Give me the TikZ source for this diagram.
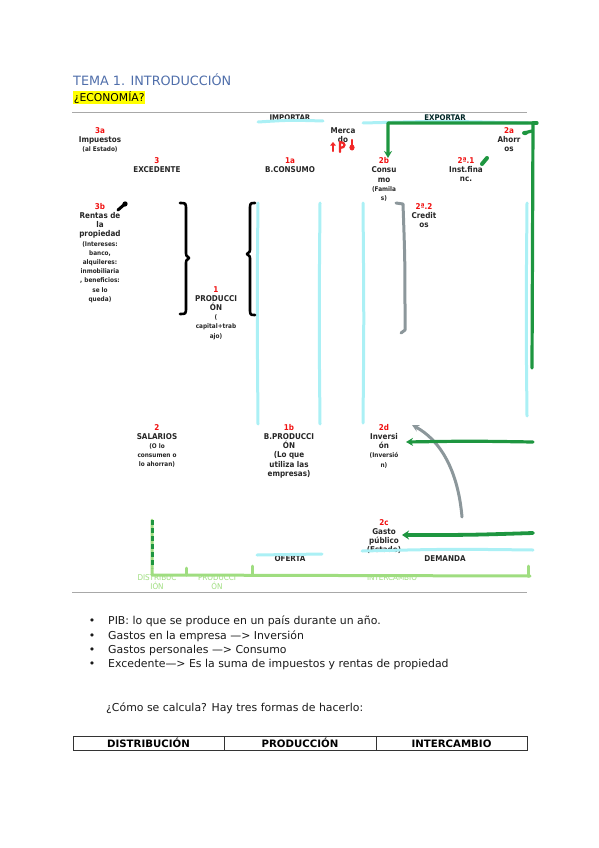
\documentclass[tikz,border=0pt]{standalone}
\usepackage{fontspec}
\setmainfont{DejaVu Sans}
\newfontfamily\condf{DejaVu Sans Condensed}
\usetikzlibrary{arrows.meta}
\definecolor{titleblue}{HTML}{4F6EAA}
\definecolor{cyanl}{HTML}{ABF0F5}
\definecolor{greend}{HTML}{1E9640}
\definecolor{greenl}{HTML}{9FDD80}
\definecolor{grayarr}{HTML}{8C979B}
\definecolor{rulegray}{HTML}{A8A8A8}
\definecolor{numred}{HTML}{F01010}
\definecolor{hiyellow}{HTML}{FFFF00}
\newcommand{\rnum}[1]{\textcolor{numred}{#1}}
\newcommand{\smf}{\fontsize{6.4}{9.2}\selectfont}
\begin{document}
\begin{tikzpicture}[x=1pt,y=-1pt,
  lbl/.style={font=\condf\bfseries\fontsize{8}{9.2}\selectfont, align=center, inner sep=0pt, anchor=north, text=black!85},
  glbl/.style={font=\condf\fontsize{8}{9.5}\selectfont, align=center, inner sep=0pt, text=greenl},
  cyanstroke/.style={draw=cyanl, line width=3pt, line cap=round},
  gstroke/.style={draw=greend, line width=3.2pt, line cap=round, line join=round},
  lgstroke/.style={draw=greenl, line width=3pt, line cap=round, line join=round},
  graystroke/.style={draw=grayarr, line width=3pt, line cap=round, line join=round},
  blackstroke/.style={draw=black, line width=2.6pt, line cap=round, line join=round},
  redstroke/.style={draw=numred!90, line width=2.2pt, line cap=round},
  bodytext/.style={font=\fontsize{10.9}{12}\selectfont, inner sep=0pt, anchor=base west, text=black!90},
  thead/.style={font=\bfseries\fontsize{10.2}{11}\selectfont, inner sep=0pt, anchor=base}
]
\useasboundingbox (0,0) rectangle (599,848);

% ---------- header ----------
\node[inner sep=0pt, anchor=base west, text=titleblue, font=\fontsize{12.8}{14}\selectfont] (title) at (73,86) {TEMA 1. INTRODUCCIÓN};
\node[inner sep=0.6pt, anchor=base west, fill=hiyellow, font=\fontsize{10.8}{12}\selectfont] (eco) at (73,101.5) {¿ECONOMÍA?};
\coordinate (rtl) at (72,113); \coordinate (rtr) at (527,113);
\draw[rulegray, line width=1pt] (rtl) -- (rtr);
\coordinate (rbl) at (72,592); \coordinate (rbr) at (527,592);
\draw[rulegray, line width=1pt] (rbl) -- (rbr);

% ---------- top row texts ----------
\node[lbl, anchor=center, font=\condf\bfseries\fontsize{7.8}{9}\selectfont] (imp) at (290,118) {IMPORTAR};
\node[lbl, anchor=center, font=\condf\bfseries\fontsize{7.8}{9}\selectfont, text=black!70!teal] (exp) at (445,118) {EXPORTAR};
\draw[cyanstroke] (258,122) .. controls (290,120) .. (323,121);
\draw[cyanstroke] (363,123) .. controls (440,121) .. (528,123);

\node[lbl] (n3a) at (100,127) {\rnum{3a}\\Impuestos\\{\smf (al Estado)}};
\node[lbl] (merc) at (343,127) {Merca\\do};
\node[lbl] (n2a) at (509,127) {\rnum{2a}\\Ahorr\\os};
\node[lbl] (n3) at (157,157.5) {\rnum{3}\\EXCEDENTE};
\node[lbl] (n1a) at (290,157.5) {\rnum{1a}\\B.CONSUMO};
\node[lbl] (n2b) at (384,157.5) {\rnum{2b}\\Consu\\mo\\{\smf (Famila}\\{\smf s)}};
\node[lbl] (n2a1) at (466,157) {\rnum{2ª.1}\\Inst.fina\\nc.};

\node[lbl] (n3b) at (100,203) {\rnum{3b}\\Rentas de\\la\\propiedad\\{\smf (Intereses:}\\{\smf banco,}\\{\smf alquileres:}\\{\smf inmobiliaria}\\{\smf , beneficios:}\\{\smf se lo}\\{\smf queda)}};
\node[lbl] (n2a2) at (424,203) {\rnum{2ª.2}\\Credit\\os};
\node[lbl] (n1) at (216,286) {\rnum{1}\\PRODUCCI\\ÓN\\{\smf (}\\{\smf capital+trab}\\{\smf ajo)}};

\node[lbl] (n2) at (157,424) {\rnum{2}\\SALARIOS\\{\smf (O lo}\\{\smf consumen o}\\{\smf lo ahorran)}};
\node[lbl] (n1b) at (289,424) {\rnum{1b}\\B.PRODUCCI\\ÓN\\(Lo que\\utiliza las\\empresas)};
\node[lbl] (n2d) at (384,424) {\rnum{2d}\\Inversi\\ón\\{\smf (Inversió}\\{\smf n)}};
\node[lbl] (n2c) at (384,519) {\rnum{2c}\\Gasto\\público\\(Estado)};

\node[lbl, anchor=center] (ofe) at (290,559) {OFERTA};
\node[lbl, anchor=center] (dem) at (445,559) {DEMANDA};

% ---------- cyan vertical lines ----------
\draw[cyanstroke] (258,203) .. controls (257,300) .. (258,424);
\draw[cyanstroke] (320,203) .. controls (319,320) .. (320,424);
\draw[cyanstroke] (363,203) .. controls (364,320) .. (363,423);
\draw[cyanstroke] (527,203) .. controls (526,320) .. (527,416);
\draw[cyanstroke] (257,555) -- (322,554);
\draw[cyanstroke] (362,551) .. controls (450,549) .. (533,550);

% ---------- braces ----------
\draw[blackstroke] (180,203) .. controls (186,203) .. (186,210) -- (186,250) .. controls (186,256) .. (189,258) .. controls (186,260) .. (186,266) -- (186,307) .. controls (186,314) .. (180,314);
\draw[blackstroke] (255,203) .. controls (250,203) .. (250,210) -- (250,247) .. controls (250,252) .. (247,254) .. controls (250,256) .. (250,261) -- (250,308) .. controls (250,315) .. (255,315);
% 3b mark
\draw[blackstroke, line width=3pt] (118,210) -- (126,203);
\fill[black] (125,204) circle (2.6pt);

% ---------- gray bracket and arrow ----------
\draw[graystroke] (396,203) -- (403,204) .. controls (405,260) .. (405,330) -- (401,333);
\coordinate (gcs) at (462,517);
\coordinate (gce) at (412,425);
\draw[graystroke, -{Stealth[length=7pt,width=7pt]}] (gcs) .. controls (458,470) and (440,440) .. (gce);

% ---------- green lines ----------
\coordinate (gtl) at (388,123);
\coordinate (gtr) at (533,123);
\coordinate (gbr) at (532,368);
\coordinate (g2b) at (388,158);
\draw[gstroke, -{Stealth[length=7pt,width=8pt]}] (gbr) -- (gtr) -- (gtl) -- (g2b);
\draw[gstroke] (533,123) -- (537,123);
\draw[gstroke] (532,131) -- (524,133);
\fill[greend] (525,133) ellipse (3pt and 2.2pt);
\draw[gstroke, line width=4pt] (482,164) -- (487,158);

\coordinate (g2ds) at (533,442);
\coordinate (g2de) at (406,442);
\draw[gstroke, -{Stealth[length=7pt,width=8pt]}] (g2ds) .. controls (470,441) .. (g2de);
\coordinate (g2cs) at (533,533);
\coordinate (g2ce) at (402,535);
\draw[gstroke, line width=3.8pt, -{Stealth[length=7pt,width=9pt]}] (g2cs) .. controls (470,535) .. (g2ce);

% ---------- Mercado red marks ----------
\draw[redstroke, -{Triangle[length=3.5pt,width=5.5pt]}] (333,151) -- (333,142);
\draw[redstroke] (340,152) -- (340,142) .. controls (346,142) and (346,148) .. (340,148);
\draw[redstroke] (352,140) -- (352,147);
\fill[numred!90] (352,147.5) ellipse (2.6pt and 3pt);

% ---------- bottom light green bracket ----------
\node[glbl, anchor=north] (dis) at (157,574) {DISTRIBUC\\IÓN};
\node[glbl, anchor=north] (pro) at (217,574) {PRODUCCI\\ÓN};
\node[glbl, anchor=north] (int) at (392,574) {INTERCAMBIO};
\draw[lgstroke] (152,520) -- (152,575) -- (530,576);
\draw[lgstroke] (186,568) -- (186,575);
\draw[lgstroke] (252,566) -- (252,575);
\draw[lgstroke] (528,566) -- (528,576);
\draw[draw=greend, line width=3pt, dash pattern=on 5pt off 3pt] (152,520) -- (152,568);

% ---------- bullet list ----------
\node[bodytext, anchor=base] (b1) at (92,624) {•};
\node[bodytext] (t1) at (108,624) {PIB: lo que se produce en un país durante un año.};
\node[bodytext, anchor=base] (b2) at (92,639) {•};
\node[bodytext] (t2) at (108,639) {Gastos en la empresa —> Inversión};
\node[bodytext, anchor=base] (b3) at (92,653) {•};
\node[bodytext] (t3) at (108,653) {Gastos personales —> Consumo};
\node[bodytext, anchor=base] (b4) at (92,667) {•};
\node[bodytext] (t4) at (108,667) {Excedente—> Es la suma de impuestos y rentas de propiedad};
\node[bodytext] (calc) at (106,711) {¿Cómo se calcula? Hay tres formas de hacerlo:};

% ---------- table ----------
\draw[black!80, line width=0.9pt] (73,736) rectangle (527,750);
\draw[black!80, line width=0.9pt] (224,736) -- (224,750);
\draw[black!80, line width=0.9pt] (376,736) -- (376,750);
\node[thead] (c1) at (148.5,747) {DISTRIBUCIÓN};
\node[thead] (c2) at (300,747) {PRODUCCIÓN};
\node[thead] (c3) at (451.5,747) {INTERCAMBIO};
\end{tikzpicture}
\end{document}
